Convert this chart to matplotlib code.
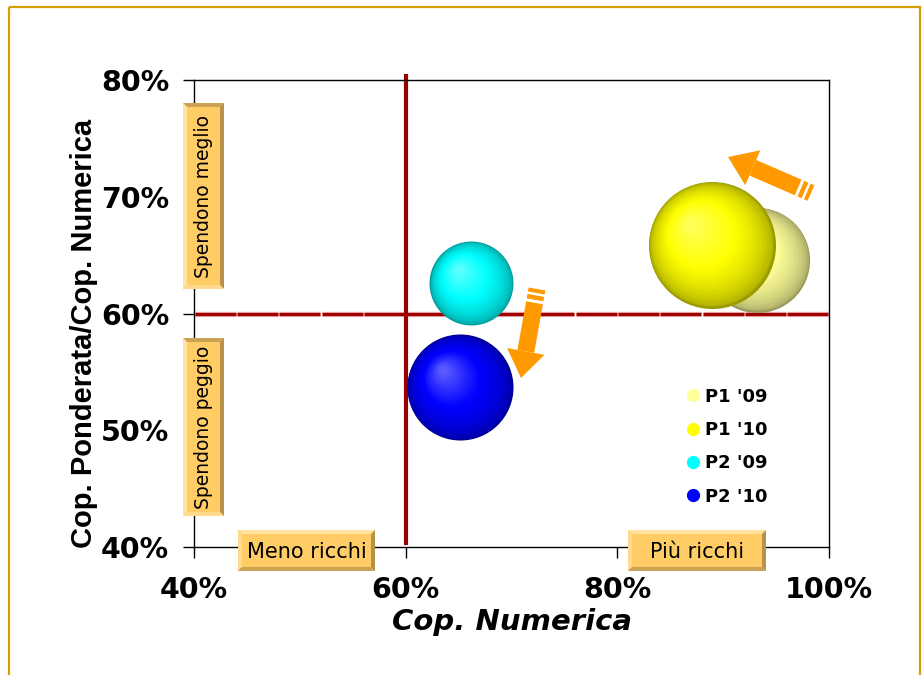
import numpy as np
import matplotlib
matplotlib.use('Agg')
import matplotlib.pyplot as plt
from matplotlib.patches import Polygon, Rectangle
from matplotlib.lines import Line2D
from matplotlib import transforms
from matplotlib.colors import to_rgb

# dati delle bolle
serie = ["P1 '09", "P1 '10", "P2 '09", "P2 '10"]
cop_numerica = [93.2, 88.9, 66.2, 65.1]
cop_ponderata = [64.6, 65.9, 62.6, 53.7]
dimensione = [2760, 4030, 1760, 2810]
colori = ['#FFFF99', '#FFFF00', '#00FFFF', '#0000FF']

x_ticks = [40, 60, 80, 100]
y_ticks = [40, 50, 60, 70, 80]
soglia_x = 60
soglia_y = 60


def sphere_color(base, t):
    rim = base * 0.6
    hl = base + (1 - base) * 0.35
    if t < 0.5:
        return rim + (base - rim) * np.sqrt(t / 0.5)
    return base + (hl - base) * ((t - 0.5) / 0.5)


def bubble(ax, fig, x, y, r_pt, color, n=40):
    base = np.array(to_rgb(color))
    for k in range(n):
        t = k / (n - 1)
        rk = r_pt * (1 - 0.92 * t)
        off = t * 0.32 * r_pt
        tr = transforms.offset_copy(ax.transData, fig=fig, x=-off, y=off, units='points')
        ax.scatter([x], [y], s=(2 * rk) ** 2, c=[sphere_color(base, t)],
                   linewidths=0, transform=tr, zorder=3)


def bevel_box(ax, x0, y0, x1, y1, label, vertical=False, size=15):
    b = 4
    light, light2, dark, dark2 = '#FFE39E', '#FFDA8C', '#B8924A', '#C9A254'
    ax.add_patch(Rectangle((x0, y0), x1 - x0, y1 - y0, fc='#FFCC66', ec='none'))
    top = [(x0, y0), (x1, y0), (x1 - b, y0 + b), (x0 + b, y0 + b)]
    left = [(x0, y0), (x0 + b, y0 + b), (x0 + b, y1 - b), (x0, y1)]
    right = [(x1, y0), (x1, y1), (x1 - b, y1 - b), (x1 - b, y0 + b)]
    bottom = [(x0, y1), (x1, y1), (x1 - b, y1 - b), (x0 + b, y1 - b)]
    if vertical:
        cols = [dark2, light, dark, light2]
    else:
        cols = [light, light2, dark, dark2]
    for pts, c in zip([top, left, right, bottom], cols):
        ax.add_patch(Polygon(pts, closed=True, fc=c, ec='none'))
    ax.text((x0 + x1) / 2, (y0 + y1) / 2 + (0 if vertical else 1), label,
            rotation=90 if vertical else 0, ha='center', va='center',
            fontsize=size, color='black')


def block_arrow(ax, tail, tip, shaft_w=17, head_w=38, head_len=27, color='#FF9900'):
    tail = np.array(tail, float)
    tip = np.array(tip, float)
    L = np.linalg.norm(tip - tail)
    u = (tip - tail) / L
    n = np.array([-u[1], u[0]])
    h = shaft_w / 2

    def seg(a, b):
        p, q = tail + u * a, tail + u * b
        return [p + n * h, q + n * h, q - n * h, p - n * h]

    for a, b in [(0, 4), (6.5, 11), (14, L - head_len)]:
        ax.add_patch(Polygon(seg(a, b), closed=True, fc=color, ec='none'))
    base = tail + u * (L - head_len)
    ax.add_patch(Polygon([base + n * head_w / 2, tip, base - n * head_w / 2],
                         closed=True, fc=color, ec='none'))


fig = plt.figure(figsize=(9.24, 6.75), dpi=100)
ax = fig.add_axes([0.21, 0.1896, 0.6872, 0.6919])
ax.set_xlim(40, 100)
ax.set_ylim(40, 80)

# linee di soglia
ax.axvline(soglia_x, ymin=0.008, ymax=1.008, color='#990000', lw=3, clip_on=False, zorder=2)
edges = np.arange(40, 100.1, 4)
yy = np.full(len(edges) - 1, soglia_y)
ax.hlines(yy, edges[:-1] + 0.07, edges[1:] - 0.07, colors='#E6A3A3', lw=3.8, zorder=1)
ax.hlines(yy, edges[:-1] + 0.07, edges[1:] - 0.07, colors='#A00000', lw=2.2, zorder=1)

r_max = 63.5 * 0.72
for i in range(len(serie)):
    r = r_max * np.sqrt(dimensione[i] / max(dimensione))
    bubble(ax, fig, cop_numerica[i], cop_ponderata[i], r, colori[i])

ax.set_xticks(x_ticks)
ax.set_xticklabels([f'{v}%' for v in x_ticks])
ax.set_yticks(y_ticks)
ax.set_yticklabels([f'{v}%' for v in y_ticks])
ax.tick_params(axis='x', direction='out', length=8, width=1, pad=13, labelsize=20.5)
ax.tick_params(axis='y', direction='out', length=8, width=1, pad=10, labelsize=20.5)
for lab in ax.get_xticklabels() + ax.get_yticklabels():
    lab.set_fontweight('bold')
for sp in ax.spines.values():
    sp.set_linewidth(1)

ax.set_xlabel('Cop. Numerica', fontsize=21, fontweight='bold', style='italic')
ax.xaxis.set_label_coords(0.5, -0.13)
ax.set_ylabel('Cop. Ponderata/Cop. Numerica', fontsize=21, fontweight='bold',
              family='Liberation Sans')
ax.yaxis.set_label_coords(-0.152, 0.458)

handles = [Line2D([], [], marker='o', ls='', markerfacecolor=c, markeredgecolor=c,
                  markersize=8.5) for c in colori]
ax.legend(handles, serie, loc='center', bbox_to_anchor=(0.84, 0.215), frameon=False,
          prop={'weight': 'bold', 'size': 13}, handlelength=0.7, handletextpad=0.3,
          labelspacing=0.85)

# livello sovrapposto in pixel per etichette, frecce e cornice
ov = fig.add_axes([0, 0, 1, 1], zorder=5)
ov.set_xlim(0, 924)
ov.set_ylim(675, 0)
ov.axis('off')
ov.patch.set_alpha(0)

bevel_box(ov, 183, 103, 224, 289, 'Spendono meglio', vertical=True, size=13.5)
bevel_box(ov, 183, 338, 224, 516, 'Spendono peggio', vertical=True, size=13.5)
bevel_box(ov, 238, 530, 375, 571, 'Meno ricchi')
bevel_box(ov, 628, 530, 766, 571, 'Più ricchi')

block_arrow(ov, (811, 193), (728, 157))
block_arrow(ov, (537, 289), (521, 378))

ov.add_patch(Rectangle((9, 7), 911, 700, fill=False, ec='#D4A000', lw=1.6, clip_on=False))

fig.savefig('out.png', dpi=100)
